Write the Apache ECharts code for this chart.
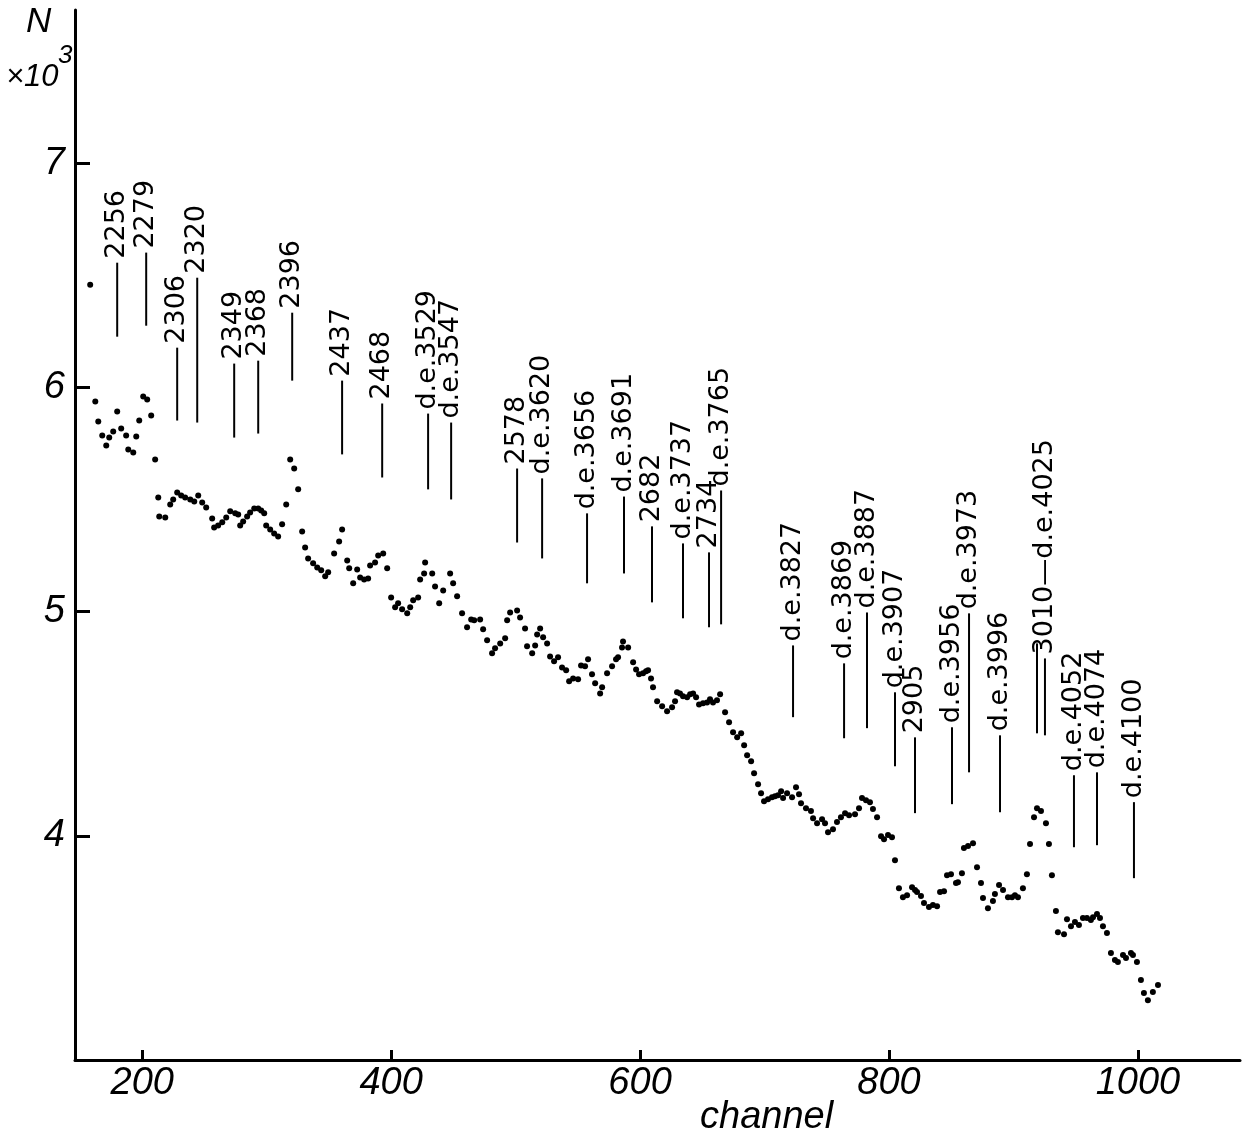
<!DOCTYPE html>
<html>
<head>
<meta charset="utf-8">
<title>N vs channel</title>
<script src="https://cdn.jsdelivr.net/npm/echarts@6/dist/echarts.min.js"></script>
<style>
  html, body { margin: 0; padding: 0; background: #fff; }
  #chart { width: 1250px; height: 1136px; }
</style>
</head>
<body>
<div id="chart"></div>
<script>
// counts per channel, in units of 10^3
var channels = [
  158.2, 162.3, 164.7, 167.9, 171.1, 173.5, 176.7, 179.9, 183.1, 187.1,
  188.8, 192.8, 195.2, 197.6, 200.8, 204.0, 207.2, 210.4, 212.9, 213.7,
  218.5, 222.5, 224.9, 228.1, 231.3, 234.5, 238.6, 241.8, 245.0, 248.2,
  251.4, 256.2, 257.8, 261.0, 264.3, 267.5, 270.7, 274.7, 277.1, 278.7,
  281.1, 284.3, 286.7, 290.0, 293.2, 295.6, 298.0, 299.6, 302.8, 306.0,
  309.2, 312.4, 315.7, 318.9, 322.1, 325.3, 328.5, 330.9, 333.3,
  337.3, 340.6, 343.8, 347.0, 349.4, 354.2, 358.2, 360.6, 364.7, 366.3,
  369.5, 372.7, 375.1, 378.3, 381.5, 383.1, 387.1, 389.6, 393.6, 396.8,
  400.0, 403.2, 405.6, 408.8, 412.9, 415.3, 417.7, 421.7, 423.3, 426.5,
  427.3, 433.0, 435.3, 438.6, 441.8, 447.4, 449.8, 453.0, 457.0, 461.0,
  464.3, 466.7, 471.5, 473.9, 477.1, 481.1, 483.5, 487.6, 491.6, 493.2,
  495.6, 501.2, 503.6,
  507.6, 509.2, 513.3, 515.7, 517.3, 519.7, 522.1, 525.3, 527.7, 530.9,
  534.1, 537.3, 540.6, 543.0, 546.2, 550.2, 552.6, 555.8, 558.2, 561.4,
  563.9, 567.9, 569.5, 573.5, 577.5, 580.7, 582.3, 585.5, 586.3, 590.4,
  594.4, 596.8, 599.2, 602.4, 604.8, 606.4, 608.8, 610.4, 613.7, 617.7,
  621.7, 625.7, 628.1, 629.7, 632.1, 634.5, 637.8, 640.2, 642.6, 645.0,
  647.4, 650.6, 653.8, 656.2, 658.6, 661.8, 664.3, 668.3, 671.5, 674.7,
  678.0, 681.2, 683.6,
  686.0, 689.2, 691.6, 694.8, 697.2, 699.6, 702.8, 706.0, 708.4, 710.8,
  713.3, 714.9, 718.1, 722.1, 725.3, 727.7, 729.3, 733.3, 737.3, 739.0,
  742.2, 746.2, 748.6, 751.0, 755.0, 758.2, 761.4, 764.7, 767.9, 772.7,
  775.9, 778.3, 781.5, 784.7, 787.1, 790.4, 793.6, 796.0, 799.2, 802.4,
  804.8, 808.0, 811.2, 814.5, 818.5, 820.9, 822.5, 825.7, 828.1, 832.1,
  835.3, 838.6, 841.0, 844.2, 846.6, 849.8, 853.8, 855.4, 858.6, 860.2,
  863.5, 867.5, 870.7,
  873.9, 875.5, 879.5, 883.5, 885.1, 888.4, 891.6, 895.6, 898.8, 901.2,
  903.6, 907.6, 910.8, 913.3, 916.5, 918.9, 922.1, 926.1, 928.5, 930.9,
  934.1, 935.7, 940.6, 943.0, 946.2, 949.4, 952.6, 955.8, 959.0, 962.2,
  963.9, 967.1, 969.5, 971.9, 975.1, 978.3, 981.5, 983.9, 988.0, 990.4,
  994.4, 996.0, 999.2, 1002.4, 1004.8, 1008.0, 1012.0, 1016.1
];
var counts = [
  6.458, 5.937, 5.848, 5.785, 5.741, 5.776, 5.803, 5.892, 5.816, 5.785,
  5.723, 5.709, 5.781, 5.852, 5.959, 5.946, 5.874, 5.678, 5.509, 5.424,
  5.420, 5.478, 5.500, 5.531, 5.518, 5.509, 5.500, 5.491, 5.518, 5.487,
  5.464, 5.415, 5.375, 5.384, 5.398, 5.420, 5.447, 5.438, 5.433, 5.384,
  5.402, 5.424, 5.442, 5.460, 5.460, 5.451, 5.438, 5.384, 5.366, 5.348,
  5.335, 5.389, 5.478, 5.678, 5.638, 5.545, 5.357, 5.286, 5.237,
  5.215, 5.197, 5.184, 5.157, 5.175, 5.259, 5.313, 5.366, 5.228, 5.193,
  5.126, 5.188, 5.152, 5.143, 5.148, 5.206, 5.219, 5.250, 5.259, 5.193,
  5.063, 5.019, 5.037, 5.010, 4.992, 5.019, 5.050, 5.063, 5.143, 5.170,
  5.219, 5.170, 5.112, 5.037, 5.094, 5.170, 5.126, 5.068, 4.992, 4.930,
  4.965, 4.961, 4.965, 4.921, 4.872, 4.814, 4.836, 4.858, 4.881, 4.961,
  4.996, 5.005, 4.974,
  4.925, 4.845, 4.814, 4.849, 4.898, 4.925, 4.885, 4.858, 4.800, 4.778,
  4.796, 4.751, 4.738, 4.689, 4.702, 4.698, 4.760, 4.756, 4.787, 4.720,
  4.680, 4.635, 4.662, 4.725, 4.756, 4.787, 4.796, 4.840, 4.867, 4.840,
  4.774, 4.742, 4.720, 4.725, 4.734, 4.738, 4.702, 4.662, 4.600, 4.578,
  4.555, 4.573, 4.600, 4.640, 4.635, 4.622, 4.618, 4.631, 4.635, 4.618,
  4.586, 4.591, 4.595, 4.609, 4.595, 4.604, 4.631, 4.551, 4.506, 4.462,
  4.439, 4.457, 4.404,
  4.359, 4.332, 4.279, 4.230, 4.190, 4.154, 4.163, 4.172, 4.176, 4.181,
  4.199, 4.168, 4.190, 4.172, 4.217, 4.185, 4.145, 4.123, 4.110, 4.078,
  4.056, 4.074, 4.056, 4.016, 4.029, 4.061, 4.083, 4.101, 4.092, 4.096,
  4.123, 4.168, 4.159, 4.150, 4.119, 4.083, 3.998, 3.985, 4.003, 3.994,
  3.891, 3.766, 3.726, 3.735, 3.771, 3.758, 3.749, 3.731, 3.700, 3.682,
  3.691, 3.686, 3.749, 3.753, 3.824, 3.829, 3.789, 3.793, 3.833, 3.945,
  3.954, 3.967, 3.860,
  3.789, 3.722, 3.677, 3.709, 3.740, 3.780, 3.758, 3.726, 3.726, 3.735,
  3.726, 3.766, 3.829, 3.963, 4.083, 4.123, 4.110, 4.056, 3.963, 3.824,
  3.664, 3.570, 3.561, 3.628, 3.597, 3.615, 3.602, 3.633, 3.633, 3.624,
  3.637, 3.651, 3.633, 3.597, 3.566, 3.477, 3.446, 3.437, 3.468, 3.455,
  3.477, 3.468, 3.437, 3.357, 3.299, 3.267, 3.303, 3.334
];

// line identifications: label, channel, lower and upper end of the marker line
var markLabels = [
  '2256', '2279', '2306', '2320', '2349', '2368', '2396', '2437', '2468',
  'd.e.3529', 'd.e.3547', '2578', 'd.e.3620', 'd.e.3656', 'd.e.3691', '2682',
  'd.e.3737', '2734', 'd.e.3765', 'd.e.3827', 'd.e.3869', 'd.e.3887',
  'd.e.3907', '2905', 'd.e.3956', 'd.e.3973', 'd.e.3996', '',
  '3010\u2014d.e.4025', 'd.e.4052', 'd.e.4074', 'd.e.4100'
];
var markChannels = [
  179.9, 203.2, 228.1, 244.2, 273.9, 293.2, 320.5, 360.6, 392.8,
  429.7, 448.2, 501.2, 521.3, 557.4, 587.1, 609.6,
  634.5, 655.4, 665.1, 722.9, 763.9, 782.3,
  804.8, 820.9, 850.6, 864.3, 889.2, 918.9,
  925.3, 948.6, 967.1, 996.8
];
var markLows = [
  6.226, 6.275, 5.852, 5.843, 5.776, 5.794, 6.030, 5.701, 5.598,
  5.545, 5.500, 5.308, 5.237, 5.126, 5.170, 5.041,
  4.970, 4.930, 4.943, 4.529, 4.435, 4.480,
  4.310, 4.101, 4.141, 4.283, 4.105, 4.457,
  4.448, 3.949, 3.958, 3.811
];
var markHighs = [
  6.556, 6.601, 6.177, 6.489, 6.106, 6.119, 6.333, 6.030, 5.928,
  5.883, 5.843, 5.638, 5.594, 5.438, 5.513, 5.380,
  5.304, 5.264, 5.540, 4.849, 4.769, 4.996,
  4.640, 4.439, 4.484, 4.992, 4.448, 4.858,
  4.791, 4.270, 4.283, 4.150
];

var xTicks = [200, 400, 600, 800, 1000];
var yTicks = [4, 5, 6, 7];

// narrow face for the tick numbers if the machine has one
function hasFont(name) {
  var ctx = document.createElement('canvas').getContext('2d');
  ctx.font = '40px monospace';
  var w0 = ctx.measureText('2004000').width;
  ctx.font = "40px '" + name + "', monospace";
  return ctx.measureText('2004000').width !== w0;
}
var narrow = hasFont('Liberation Sans Narrow');

var chart = echarts.init(document.getElementById('chart'));

var points = channels.map(function (c, i) { return [c, counts[i]]; });
var marks = markChannels.map(function (c, i) { return [c, markLows[i], markHighs[i]]; });

var tickFont = {
  fontFamily: narrow ? "'Liberation Sans Narrow', 'Liberation Sans', sans-serif"
                     : "'Liberation Sans', 'DejaVu Sans', sans-serif",
  fontStyle: 'italic',
  fontSize: narrow ? 42 : 38,
  color: '#000'
};
function plain(v) { return String(v); }

chart.setOption({
  animation: false,
  backgroundColor: '#fff',
  grid: { left: 75, right: 10, top: 10, bottom: 76, containLabel: false },
  xAxis: {
    type: 'value',
    min: 146, max: 1082,
    axisLine: { lineStyle: { color: '#000', width: 3 } },
    axisTick: { inside: true, length: 10, lineStyle: { color: '#000', width: 3 },
                customValues: xTicks },
    axisLabel: Object.assign({ margin: 4, customValues: xTicks, formatter: plain }, tickFont),
    splitLine: { show: false }
  },
  yAxis: {
    type: 'value',
    min: 3, max: 7.683,
    axisLine: { show: true, lineStyle: { color: '#000', width: 3 } },
    axisTick: { show: true, inside: true, length: 15, lineStyle: { color: '#000', width: 3 },
                customValues: yTicks },
    axisLabel: Object.assign({ margin: 10, customValues: yTicks, formatter: plain }, tickFont),
    splitLine: { show: false }
  },
  graphic: [
    { type: 'text', left: 26, top: 5,
      style: { text: 'N', font: "italic 35px 'Liberation Sans', sans-serif", fill: '#000' } },
    { type: 'text', left: 6, top: 62,
      style: { text: '\u00d710', font: "italic 31px 'Liberation Sans', sans-serif", fill: '#000' } },
    { type: 'text', left: 58, top: 43,
      style: { text: '3', font: "italic 26px 'Liberation Sans', sans-serif", fill: '#000' } },
    { type: 'text', left: 700, top: 1098,
      style: { text: 'channel', font: "italic 38px 'Liberation Sans', sans-serif", fill: '#000' } }
  ],
  series: [
    {
      type: 'scatter',
      data: points,
      symbol: 'circle',
      symbolSize: 6,
      itemStyle: { color: '#000', opacity: 1 },
      silent: true
    },
    {
      type: 'custom',
      data: marks,
      silent: true,
      clip: false,
      renderItem: function (params, api) {
        var lo = api.coord([api.value(0), api.value(1)]);
        var hi = api.coord([api.value(0), api.value(2)]);
        var label = markLabels[params.dataIndex];
        var kids = [{
          type: 'line',
          shape: { x1: lo[0], y1: lo[1], x2: hi[0], y2: hi[1] },
          style: { stroke: '#000', lineWidth: 2 }
        }];
        if (label) {
          kids.push({
            type: 'text',
            x: hi[0], y: hi[1] - 4,
            rotation: Math.PI / 2,
            style: {
              text: label,
              font: "27px 'DejaVu Sans', sans-serif",
              fill: '#000',
              align: 'left',
              verticalAlign: 'middle'
            }
          });
        }
        return { type: 'group', children: kids };
      }
    }
  ]
});
</script>
</body>
</html>
